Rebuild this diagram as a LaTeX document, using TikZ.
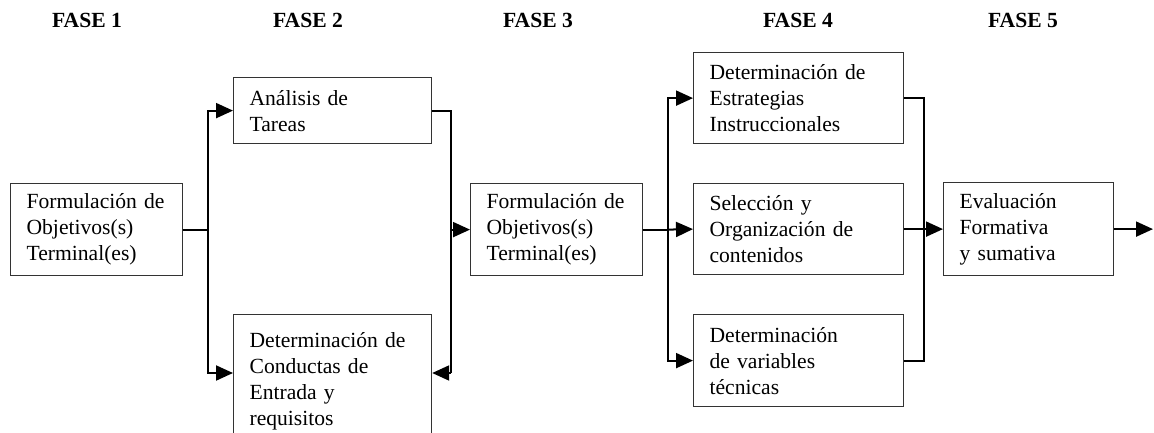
\documentclass[tikz,border=0pt]{standalone}
\usepackage{fontspec}
\setmainfont{Liberation Serif}
\usetikzlibrary{arrows.meta}

\begin{document}
\begin{tikzpicture}
	[x=1pt,y=-1pt,
	fase/.style={font=\bfseries\fontsize{21.6}{26}\selectfont},
	caja/.style={draw=black!80, line width=1.2pt, anchor=north west, align=left, inner xsep=16pt, inner ysep=0pt, font=\fontsize{21.6}{26}\selectfont},
	flecha/.style={-{Triangle[length=17pt,width=15pt]}, line width=2pt},
	linea/.style={line width=2pt}]
	\useasboundingbox (0,0) rectangle (1154,432);

	%fases
	\node (f1) [fase] at (87,20) {FASE 1};
	\node (f2) [fase] at (308,20) {FASE 2};
	\node (f3) [fase] at (538,20) {FASE 3};
	\node (f4) [fase] at (798,20) {FASE 4};
	\node (f5) [fase] at (1023,20) {FASE 5};

	%cajas
	\node (obj1) [caja, text width=140pt, minimum height=92pt] at (10,183) {Formulación de\\Objetivos(s)\\Terminal(es)};
	\node (tareas) [caja, text width=166pt, minimum height=66pt] at (233,77) {Análisis de\\Tareas};
	\node (conductas) [caja, text width=166pt, minimum height=134pt] at (233,314) {Determinación de\\Conductas de\\Entrada y\\requisitos};
	\node (obj2) [caja, text width=140pt, minimum height=92pt] at (470,183) {Formulación de\\Objetivos(s)\\Terminal(es)};
	\node (estrat) [caja, text width=178pt, minimum height=91pt] at (693,52) {Determinación de\\Estrategias\\Instruccionales};
	\node (selec) [caja, text width=178pt, minimum height=91pt] at (693,183) {Selección y\\Organización de\\contenidos};
	\node (variab) [caja, text width=178pt, minimum height=92pt] at (693,314) {Determinación\\de variables\\técnicas};
	\node (eval) [caja, text width=138pt, minimum height=93pt] at (943,182) {Evaluación\\Formativa\\y sumativa};

	%fase 1 a fase 2
	\draw[linea] (obj1.east) -- ++(25,0) coordinate (j1);
	\draw[flecha] (j1) |- (tareas.west);
	\draw[flecha] (j1) -- (j1 |- 0,373) -- (conductas.west |- 0,373);

	%fase 2 a fase 3
	\draw[linea] (tareas.east) -- ++(19,0) coordinate (j2) -- (j2 |- 0,373);
	\draw[flecha] (j2 |- 0,373) -- (conductas.east |- 0,373);
	\draw[flecha] (j2 |- obj2.west) -- (obj2.west);

	%fase 3 a fase 4
	\draw[linea] (obj2.east) -- ++(25,0) coordinate (j3);
	\draw[flecha] (j3) |- (estrat.west);
	\draw[flecha] (j3) -- (selec.west);
	\draw[flecha] (j3) |- (variab.west);

	%fase 4 a fase 5
	\draw[linea] (estrat.east) -- ++(20,0) coordinate (j4) -- (j4 |- variab.east) -- (variab.east);
	\draw[linea] (selec.east) -- (selec.east -| j4);
	\draw[flecha] (j4 |- eval.west) -- (eval.west);
	\coordinate (fin) at (1153,228);
	\draw[flecha] (eval.east) -- (fin |- eval.east);
\end{tikzpicture}
\end{document}
